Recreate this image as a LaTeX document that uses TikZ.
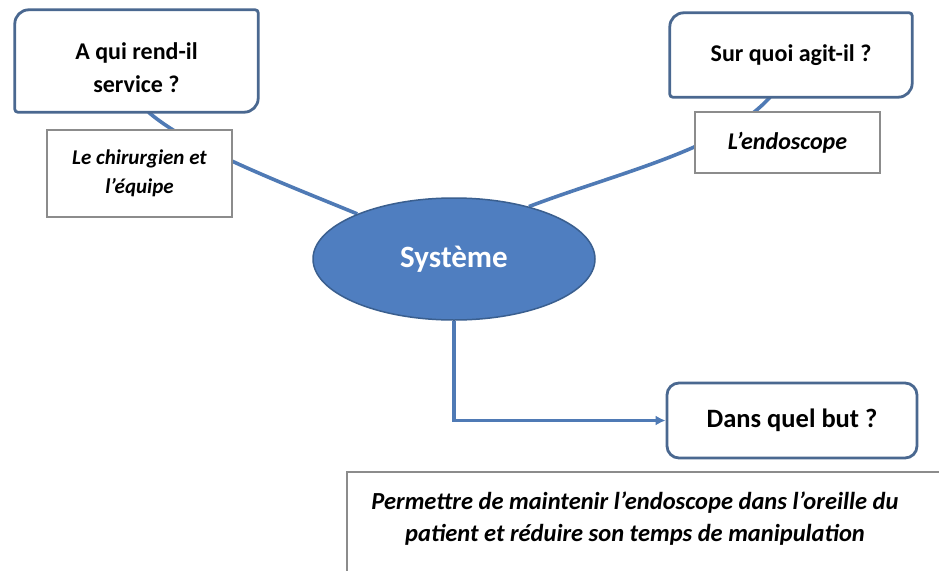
\documentclass[tikz,border=0pt]{standalone}
\usepackage{fontspec}
\setmainfont{Carlito}
\usetikzlibrary{shapes.geometric, arrows.meta, positioning, backgrounds}
\definecolor{colorLigne}{HTML}{4F7AB5}
\definecolor{colorBord}{HTML}{4A6890}
\definecolor{colorSysteme}{HTML}{4F7EC0}
\definecolor{bordSysteme}{HTML}{3A5F8F}
\definecolor{bordReponse}{HTML}{8C8C8C}

\begin{document}
\begin{tikzpicture}[x=1pt, y=-1pt,
        q/.style={fill=white, align=center, font=\bfseries\fontsize{24}{33}\selectfont},
        qcadre/.style={draw=colorBord, line width=2.8pt},
        r/.style={draw=bordReponse, fill=white, line width=1.1pt, align=center,
            font=\bfseries\itshape\fontsize{21}{29}\selectfont},
        sys/.style={ellipse, draw=bordSysteme, fill=colorSysteme, line width=1.5pt,
            minimum width=282pt, minimum height=122pt, text=white,
            font=\bfseries\fontsize{31}{36}\selectfont},
        link/.style={colorLigne, line width=3.6pt},
        rel/.style={link, -{Latex[length=10pt, width=10pt]}}
    ]
        \clip (0,0) rectangle (939,570);
        % noeuds
        \node[q, minimum width=243pt, minimum height=102pt] (q1) at (136.5,61) {\rule{0pt}{31pt}A qui rend-il\\service ?};
        \node[r, minimum width=185pt, minimum height=87pt] (r1) at (139.5,173.5) {Le chirurgien et\\l’équipe};
        \node[q, minimum width=242pt, minimum height=84pt] (q2) at (791,55) {Sur quoi agit-il ?};
        \node[r, minimum width=185pt, minimum height=61pt, font=\bfseries\itshape\fontsize{24}{29}\selectfont]
            (r2) at (787.5,142.5) {L’endoscope};
        \node[sys] (s) at (454,259) {Système};
        \node[q, draw=colorBord, line width=2.8pt, rounded corners=12pt, font=\bfseries\fontsize{26.5}{33}\selectfont,
            minimum width=250pt, minimum height=75pt] (q3) at (792,420.5) {Dans quel but ?};
        \node[font=\bfseries\itshape\fontsize{24.5}{32}\selectfont, align=center] (r3) at (635,519)
            {Permettre de maintenir l’endoscope dans l’oreille du\\patient et réduire son temps de manipulation};
        \draw[bordReponse, line width=1.1pt] (347,472) rectangle (960,590);
        % cadres des questions
        \foreach \n in {q1,q2}
            \draw[qcadre] (\n.west) [rounded corners=14pt] |- (\n.north) [rounded corners=3pt] -| (\n.east)
                [rounded corners=14pt] |- (\n.south) [rounded corners=3pt] -| (\n.west) -- cycle;
        % cornes
        \begin{scope}[on background layer]
            \fill[white] (0,0) rectangle (939,570);
            \draw[link] ([xshift=12pt]q1.south) .. controls (190,148) and (280,182) .. (s.155);
            \draw[link] ([xshift=-21pt]q2.south) .. controls (722,150) and (620,172) .. (s.35);
        \end{scope}
        \draw[rel] (s.south) |- (q3.west);
    \end{tikzpicture}
\end{document}
